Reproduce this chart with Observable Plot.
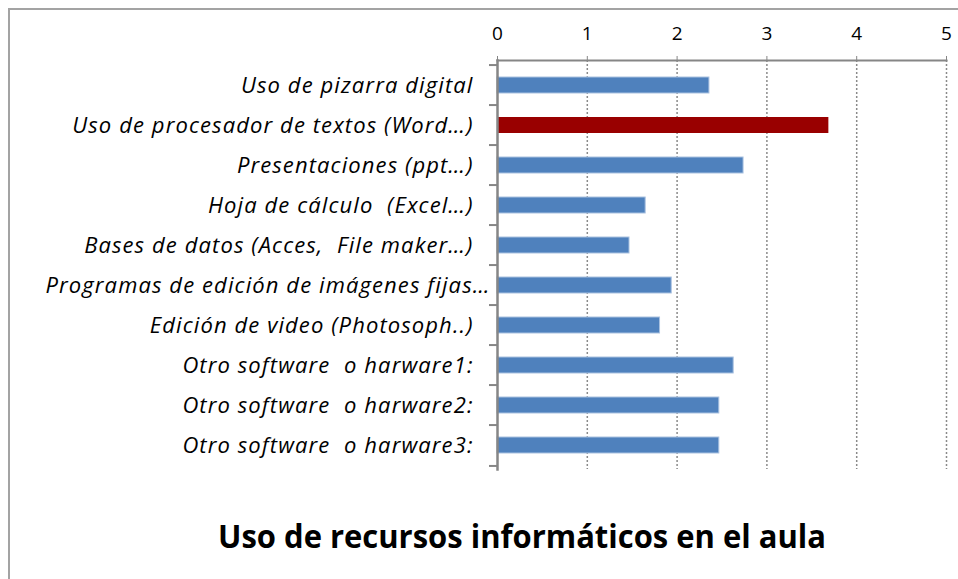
<!DOCTYPE html>
<html>
<head>
<meta charset="utf-8">
<script src="https://cdn.jsdelivr.net/npm/d3@7"></script>
<script src="https://cdn.jsdelivr.net/npm/@observablehq/plot@0.6"></script>
<style>
  html, body { margin: 0; padding: 0; width: 958px; height: 579px; overflow: hidden; background: #fff; }
  #frame { position: absolute; left: 8px; top: 8px; width: 1000px; height: 1000px;
           border-left: 2px solid #a3a3a3; border-top: 2px solid #a3a3a3; }
  #chart { position: absolute; left: 0; top: 0; }
  #title { position: absolute; left: 0; top: 505px; }
</style>
</head>
<body>
<div id="frame"></div>
<div id="chart"></div>
<div id="title"></div>
<script>
const categories = [
  "Uso de pizarra digital",
  "Uso de procesador de textos (Word…)",
  "Presentaciones (ppt…)",
  "Hoja de cálculo  (Excel…)",
  "Bases de datos (Acces,  File maker…)",
  "Programas de edición de imágenes fijas…",
  "Edición de video (Photosoph..)",
  "Otro software  o harware1:",
  "Otro software  o harware2:",
  "Otro software  o harware3:"
];
const values = [2.36, 3.69, 2.74, 1.65, 1.47, 1.94, 1.81, 2.63, 2.47, 2.47];
const highlighted = "Uso de procesador de textos (Word…)";
const overflowLabel = "Programas de edición de imágenes fijas…";
const xTicks = [0, 1, 2, 3, 4, 5];
const titleText = "Uso de recursos informáticos en el aula";

const data = categories.map((c, i) => ({category: c, value: values[i]}));

const W = 958, H = 490, mT = 60, mB = 21, mL = 497, mR = 12;
const step = (H - mT - mB) / categories.length;
const unitPx = (W - mL - mR) / 5;

const chart = Plot.plot({
  width: W, height: H,
  marginTop: mT, marginBottom: mB, marginLeft: mL, marginRight: mR,
  style: {fontFamily: "Open Sans", background: "transparent", overflow: "visible"},
  x: {domain: [0, 5]},
  y: {domain: categories, paddingInner: 0.6, paddingOuter: 0.3, axis: null},
  marks: [
    Plot.ruleX(xTicks.slice(1), {stroke: "#8a8a8a", strokeWidth: 1.5, strokeDasharray: "2,2"}),
    Plot.barX(data.filter(d => d.category !== highlighted), {
      y: "category", x: "value", fill: "#4F81BD", stroke: "#a9c1e0", strokeWidth: 1
    }),
    Plot.barX(data.filter(d => d.category === highlighted), {
      y: "category", x: "value", fill: "#990000"
    }),
    Plot.frame({anchor: "top", stroke: "#868686", strokeWidth: 2}),
    Plot.frame({anchor: "left", stroke: "#868686", strokeWidth: 2.5}),
    Plot.ruleY(categories, {y: d => d, x1: -8 / unitPx, x2: 0, dy: -step / 2, stroke: "#868686", strokeWidth: 2}),
    Plot.ruleY(categories.slice(-1), {y: d => d, x1: -8 / unitPx, x2: 0, dy: step / 2, stroke: "#868686", strokeWidth: 2}),
    Plot.axisX({anchor: "top", ticks: xTicks, tickSize: 5, tickPadding: 16, tickFormat: d => d,
                stroke: "#868686", fill: "#000", fontSize: 19, label: null}),
    Plot.text(categories.filter(c => c !== overflowLabel), {
      y: d => d, x: 0, dx: -24, textAnchor: "end", fontStyle: "italic", fontSize: 22, fill: "#000",
      className: "ylabel"
    }),
    Plot.text(categories.filter(c => c === overflowLabel), {
      y: d => d, x: 0, dx: -7, textAnchor: "end", fontStyle: "italic", fontSize: 22, fill: "#000",
      className: "ylabel"
    })
  ]
});
d3.select(chart).selectAll(".ylabel text").attr("letter-spacing", "1.1px");
document.getElementById("chart").appendChild(chart);

const svgT = d3.create("svg").attr("width", W).attr("height", 60);
svgT.append("text")
  .attr("x", 522).attr("y", 43)
  .attr("text-anchor", "middle")
  .attr("font-family", "Open Sans")
  .attr("font-weight", "bold")
  .attr("font-size", 32)
  .attr("textLength", 608)
  .attr("lengthAdjust", "spacingAndGlyphs")
  .text(titleText);
document.getElementById("title").appendChild(svgT.node());
</script>
</body>
</html>
